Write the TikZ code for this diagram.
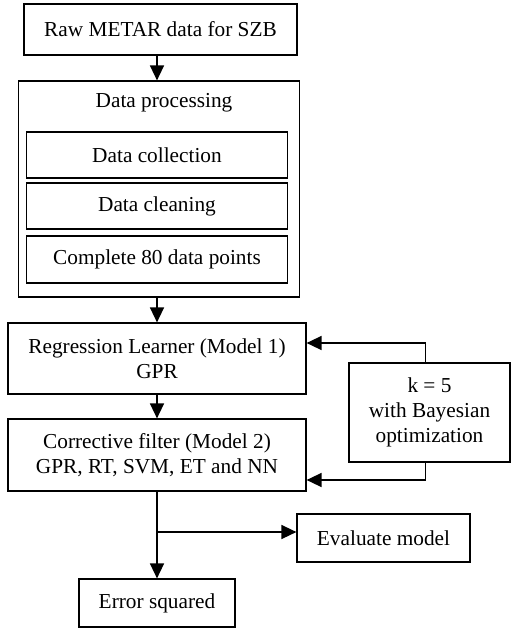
\documentclass[tikz,border=0pt]{standalone}
\usepackage{fontspec}
\setmainfont{Liberation Serif}
\usetikzlibrary{arrows.meta}

\begin{document}
\begin{tikzpicture}[
    x=1pt, y=-1pt,
    font=\fontsize{21.3}{25}\selectfont,
    box/.style={rectangle, draw, line width=1.2pt, inner sep=0pt, align=center},
    arrow/.style={-{Triangle[length=15pt, width=14pt]}, line width=1.5pt}
]
    \useasboundingbox (0,0) rectangle (511,629);

    % Input
    \node[box, minimum width=273pt, minimum height=51pt] (raw) at (160.5, 29.5) {Raw METAR data for SZB};

    % Data processing block
    \node[box, minimum width=281pt, minimum height=216pt] (proc) at (158.8, 189) {};
    \node (proctitle) at (164, 103) {Data processing};
    \node[box, minimum width=260.6pt, minimum height=46pt] (collect) at (157, 155) {Data collection};
    \node[box, minimum width=260.6pt, minimum height=46pt] (clean) at (157, 206) {Data cleaning};
    \node[box, minimum width=260.6pt, minimum height=47pt] (complete) at (157, 259.5) {Complete 80 data points};

    % Models
    \node[box, minimum width=298pt, minimum height=71pt] (reg) at (157, 358.5) {Regression Learner (Model 1)\\GPR};
    \node[box, minimum width=298pt, minimum height=72pt] (corr) at (157, 455) {Corrective filter (Model 2)\\GPR, RT, SVM, ET and NN};
    \node[box, minimum width=161pt, minimum height=99pt] (kfold) at (429.5, 412.5) {k = 5\\with Bayesian\\optimization};

    % Outputs
    \node[box, minimum width=173pt, minimum height=48pt] (eval) at (383.5, 538) {Evaluate model};
    \node[box, minimum width=156pt, minimum height=48pt] (err) at (157, 603) {Error squared};
    \coordinate (split) at (157, 532);

    % Arrows
    \draw[arrow] (raw.south -| reg.north) -- (proc.north -| reg.north);
    \draw[arrow] (proc.south -| reg.north) -- (reg.north);
    \draw[arrow] (reg) -- (corr);
    \draw[arrow] ([xshift=-4pt]kfold.north) |- ([yshift=15.5pt]reg.east);
    \draw[arrow] ([xshift=-4pt]kfold.south) |- ([yshift=-25pt]corr.east);
    \draw[arrow] (corr) -- (err);
    \draw[arrow] (split) -- (split -| eval.west);
\end{tikzpicture}
\end{document}
